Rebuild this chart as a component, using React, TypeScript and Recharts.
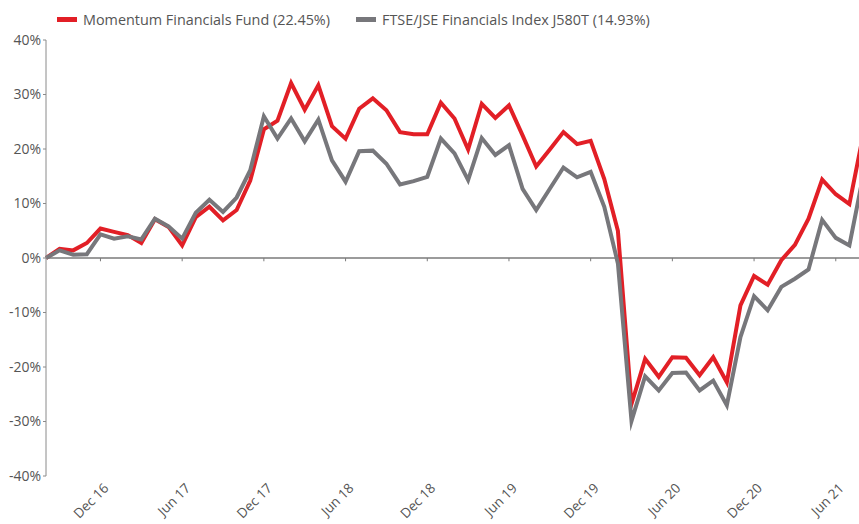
import * as React from 'react';
import {LineChart, Line, XAxis, YAxis, ReferenceLine} from 'recharts';

// monthly points, Aug 2016 .. Aug 2021
const months = [
  'Aug 16', 'Sep 16', 'Oct 16', 'Nov 16', 'Dec 16',
  'Jan 17', 'Feb 17', 'Mar 17', 'Apr 17', 'May 17', 'Jun 17', 'Jul 17', 'Aug 17', 'Sep 17', 'Oct 17', 'Nov 17', 'Dec 17',
  'Jan 18', 'Feb 18', 'Mar 18', 'Apr 18', 'May 18', 'Jun 18', 'Jul 18', 'Aug 18', 'Sep 18', 'Oct 18', 'Nov 18', 'Dec 18',
  'Jan 19', 'Feb 19', 'Mar 19', 'Apr 19', 'May 19', 'Jun 19', 'Jul 19', 'Aug 19', 'Sep 19', 'Oct 19', 'Nov 19', 'Dec 19',
  'Jan 20', 'Feb 20', 'Mar 20', 'Apr 20', 'May 20', 'Jun 20', 'Jul 20', 'Aug 20', 'Sep 20', 'Oct 20', 'Nov 20', 'Dec 20',
  'Jan 21', 'Feb 21', 'Mar 21', 'Apr 21', 'May 21', 'Jun 21', 'Jul 21', 'Aug 21',
];

const fund = [
  0, 1.7, 1.4, 2.75, 5.4,
  4.8, 4.2, 2.75, 7.1, 5.7, 2.3, 7.5, 9.4, 6.9, 8.8, 14.2, 23.6,
  25.2, 32.1, 27.2, 31.7, 24.2, 21.9, 27.4, 29.3, 27.1, 23.1, 22.7, 22.7,
  28.5, 25.6, 19.9, 28.3, 25.7, 28.0, 22.5, 16.8, 19.9, 23.1, 20.9, 21.5,
  14.5, 5.0, -26.8, -18.5, -21.8, -18.2, -18.3, -21.5, -18.2, -22.8, -8.7, -3.3,
  -4.9, -0.4, 2.4, 7.2, 14.4, 11.7, 9.9, 22.45,
];

const index = [
  0, 1.4, 0.6, 0.7, 4.35,
  3.55, 4.0, 3.4, 7.2, 5.8, 3.55, 8.3, 10.7, 8.45, 11.1, 16.1, 26.0,
  21.9, 25.6, 21.4, 25.4, 17.9, 14.0, 19.6, 19.7, 17.3, 13.5, 14.1, 14.9,
  21.9, 19.2, 14.3, 22.0, 18.9, 20.7, 12.7, 8.8, 12.7, 16.6, 14.8, 15.8,
  9.4, -1.0, -29.9, -21.7, -24.3, -21.1, -21.0, -24.3, -22.5, -27.0, -14.5, -7.0,
  -9.6, -5.3, -3.8, -2.1, 7.0, 3.7, 2.3, 14.93,
];

const xTicks = ['Dec 16', 'Jun 17', 'Dec 17', 'Jun 18', 'Dec 18', 'Jun 19', 'Dec 19', 'Jun 20', 'Dec 20', 'Jun 21'];
const yTicks = [-40, -30, -20, -10, 0, 10, 20, 30, 40];

const fundName = 'Momentum Financials Fund (22.45%)';
const indexName = 'FTSE/JSE Financials Index J580T (14.93%)';

const RED = '#e21f26';
const GREY = '#77777b';
const TEXT = '#555';
const FONT = '"Open Sans", sans-serif';

const data = months.map((m, i) => ({month: m, fund: fund[i], index: index[i]}));

const MonthTick = (props: any) => {
  const {x, y, payload} = props;
  if (!xTicks.includes(payload.value)) return <g/>;
  const tx = x + 9;
  const ty = y + 13;
  return (
    <text x={tx} y={ty} transform={`rotate(-45 ${tx} ${ty})`} textAnchor="end"
          fill={TEXT} fontSize={13.5} fontFamily={FONT}>
      {payload.value}
    </text>
  );
};

const LegendItem = ({color, label}: {color: string, label: string}) => (
  <div style={{display: 'flex', alignItems: 'center', marginRight: 26}}>
    <div style={{width: 20, height: 5, background: color, marginRight: 6}}/>
    <span>{label}</span>
  </div>
);

export default function App() {
  return (
    <div style={{position: 'absolute', left: 0, top: 0, width: 859, height: 524, overflow: 'hidden', background: '#fff'}}>
      <div style={{position: 'absolute', left: 57, top: 10, display: 'flex', fontFamily: FONT, fontSize: 14.4, color: TEXT}}>
        <LegendItem color={RED} label={fundName}/>
        <LegendItem color={GREY} label={indexName}/>
      </div>
      <LineChart width={866} height={524} data={data} margin={{top: 40, right: 3, bottom: 0, left: 0}}>
        <XAxis dataKey="month" interval={0} axisLine={false} tickLine={false} tickSize={0} tickMargin={0}
               height={48} tick={<MonthTick/>}/>
        <YAxis width={46} domain={[-40, 40]} ticks={yTicks} tickFormatter={(v) => v + '%'}
               axisLine={{stroke: '#8a8a8a'}} tickLine={{stroke: '#8a8a8a'}} tickSize={3} tickMargin={2}
               tick={{fill: TEXT, fontSize: 14, fontFamily: FONT}} allowDataOverflow/>
        <ReferenceLine y={0} stroke="#7a7a7a" strokeWidth={1.5}/>
        {xTicks.map(t => (
          <ReferenceLine key={t} segment={[{x: t, y: 0}, {x: t, y: -0.6}]} stroke="#7a7a7a"/>
        ))}
        <Line type="linear" dataKey="fund" stroke={RED} strokeWidth={4} dot={false}
              strokeMiterlimit={10} isAnimationActive={false}/>
        <Line type="linear" dataKey="index" stroke={GREY} strokeWidth={4} dot={false}
              strokeMiterlimit={10} isAnimationActive={false}/>
      </LineChart>
    </div>
  );
}
